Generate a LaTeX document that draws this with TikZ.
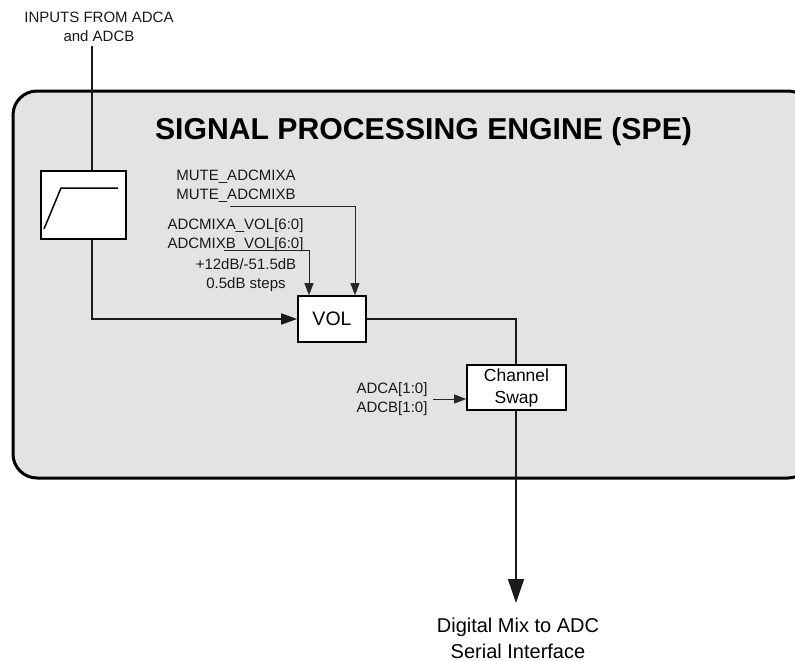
\documentclass[tikz,border=0pt]{standalone}
\usepackage{fontspec}
\setmainfont{Liberation Sans}
\usetikzlibrary{arrows.meta}
\tikzset{
  lab/.style={inner sep=0pt,align=center,text=black!90,font=\fontsize{15}{19}\selectfont},
  blockbox/.style={draw=black,fill=white,line width=1.6pt,inner sep=0pt,align=center},
  wire/.style={draw=black!90,line width=1.6pt},
  thinwire/.style={draw=black!85,line width=0.8pt},
  smalltip/.style={-{Triangle[length=12pt,width=9pt]}},
  midtip/.style={-{Triangle[length=16pt,width=11pt]}},
  bigtip/.style={-{Triangle[length=24pt,width=16pt]}},
}
\begin{document}
\begin{tikzpicture}[x=1pt,y=-1pt]
\useasboundingbox (0,0) rectangle (795,661);
\clip (0,0) rectangle (795,661);
\draw[fill=black!11,line width=3pt,rounded corners=24pt] (13,91) rectangle (812,478);
\node[font=\bfseries\fontsize{30.2}{34}\selectfont,inner sep=0pt] (title) at (423.5,132) {SIGNAL PROCESSING ENGINE (SPE)};
\node[lab] (inputs) at (99,27) {INPUTS FROM ADCA\\and ADCB};
\coordinate (instart) at (92,46);
\node[blockbox,minimum width=85pt,minimum height=68pt] (filter) at (83.5,205) {};
\draw[line width=1.5pt] (44,229) -- (61,188) -- (118,188);
\node[lab] (mute) at (236,186.5) {MUTE\_ADCMIXA\\MUTE\_ADCMIXB};
\node[lab] (volreg) at (235.5,235) {ADCMIXA\_VOL[6:0]\\ADCMIXB\_VOL[6:0]};
\node[lab] (range) at (246,275) {+12dB/-51.5dB\\0.5dB steps};
\node[blockbox,minimum width=68pt,minimum height=46pt,font=\fontsize{19.5}{23}\selectfont] (vol) at (332,319) {VOL};
\node[blockbox,minimum width=99pt,minimum height=45pt,font=\fontsize{17.5}{22}\selectfont] (swap) at (516.5,387.5) {Channel\\Swap};
\node[lab] (adc) at (392,399.5) {ADCA[1:0]\\ADCB[1:0]};
\node[inner sep=0pt,align=center,font=\fontsize{20}{25.5}\selectfont] (out) at (518,638.5) {Digital Mix to ADC\\Serial Interface};
\coordinate (mutestart) at (230,206);
\coordinate (mutecorner) at (355,206);
\coordinate (volstart) at (224,250);
\coordinate (volcorner) at (309,250);
\coordinate (adcstart) at (433,399);
\coordinate (outtip) at (516,603);
\coordinate (incorner) at (92,319);
\coordinate (swapcorner) at (516,319);
\draw[wire] (instart) -- (instart |- filter.north);
\draw[wire,midtip] (instart |- filter.south) -- (incorner) -- (vol.west);
\draw[thinwire,smalltip] (mutestart) -- (mutecorner) -- (mutecorner |- vol.north);
\draw[thinwire,smalltip] (volstart) -- (volcorner) -- (volcorner |- vol.north);
\draw[wire] (vol.east) -- (swapcorner) -- (swapcorner |- swap.north);
\draw[thinwire,smalltip] (adcstart) -- (adcstart -| swap.west);
\draw[wire,bigtip] (outtip |- swap.south) -- (outtip);
\end{tikzpicture}
\end{document}
